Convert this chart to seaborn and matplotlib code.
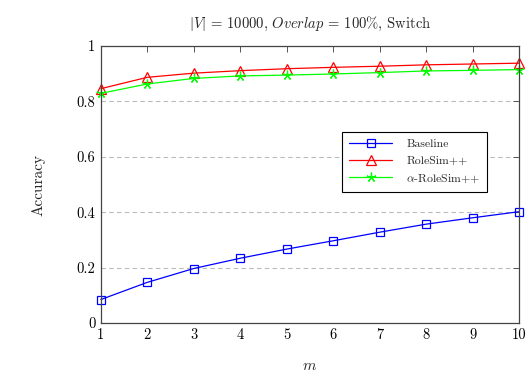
import pandas as pd
import matplotlib
matplotlib.use("Agg")
import matplotlib.pyplot as plt
import seaborn as sns

# values
m_values = [1, 2, 3, 4, 5, 6, 7, 8, 9, 10]
baseline = [0.085, 0.147, 0.197, 0.234, 0.267, 0.297, 0.328, 0.357, 0.380, 0.402]
rolesim = [0.846, 0.887, 0.902, 0.911, 0.918, 0.923, 0.927, 0.932, 0.935, 0.938]
alpha_rolesim = [0.829, 0.863, 0.883, 0.892, 0.895, 0.899, 0.904, 0.910, 0.912, 0.915]
series_names = ["Baseline", "RoleSim++", r"$\alpha$-RoleSim++"]
y_ticks = [0, 0.2, 0.4, 0.6, 0.8, 1]
y_tick_labels = ["0", "0.2", "0.4", "0.6", "0.8", "1"]

sns.set_theme(style="white")
plt.rcParams["font.family"] = "serif"
plt.rcParams["font.serif"] = ["cmr10", "DejaVu Serif"]
plt.rcParams["mathtext.fontset"] = "cm"
plt.rcParams["axes.unicode_minus"] = False

fig = plt.figure(figsize=(5.28, 3.77), dpi=100)
ax = fig.add_axes([0.191, 0.143, 0.792, 0.735])

# pgfplots-like marks: open square, open triangle, asterisk star
styles = [
    ("#0000ff", "s", 6.3, baseline),
    ("#ff0000", "^", 6.8, rolesim),
    ("#00ff00", (5, 2, 0), 7, alpha_rolesim),
]
for name, (color, marker, msize, vals) in zip(series_names, styles):
    df = pd.DataFrame({"m": m_values, "acc": vals})
    sns.lineplot(data=df, x="m", y="acc", ax=ax, color=color, marker=marker,
                 markersize=msize, markerfacecolor="none", markeredgecolor=color,
                 markeredgewidth=0.9, linewidth=0.9, label=name, clip_on=False)

ax.set_xlim(1, 10)
ax.set_ylim(0, 1)
ax.set_xticks(m_values)
ax.set_xticklabels([str(v) for v in m_values])
ax.set_yticks(y_ticks)
ax.set_yticklabels(y_tick_labels)
ax.yaxis.grid(True, linestyle=(0, (4, 3)), color="#bbbbbb", linewidth=0.8)
ax.tick_params(direction="in", top=True, right=True, length=4, width=0.7,
               colors="#555555", labelcolor="black", labelsize=10.5, pad=4)
for s in ax.spines.values():
    s.set_color("#444444")
    s.set_linewidth(0.9)

ax.set_xlabel("$m$", fontsize=11, labelpad=12)
ax.set_ylabel("Accuracy", fontsize=11, labelpad=22)
ax.set_title(r"$|V|$ = 10000, $Overlap$ = 100%, Switch", fontsize=10.5, pad=13)

leg = ax.legend(loc="upper right", bbox_to_anchor=(0.938, 0.712), fontsize=8.5,
                frameon=True, fancybox=False, edgecolor="black", framealpha=1,
                handlelength=3.6, handletextpad=1.2, borderpad=0.6,
                labelspacing=0.55)
leg.get_frame().set_linewidth(0.8)

fig.savefig("out.png", dpi=100)
